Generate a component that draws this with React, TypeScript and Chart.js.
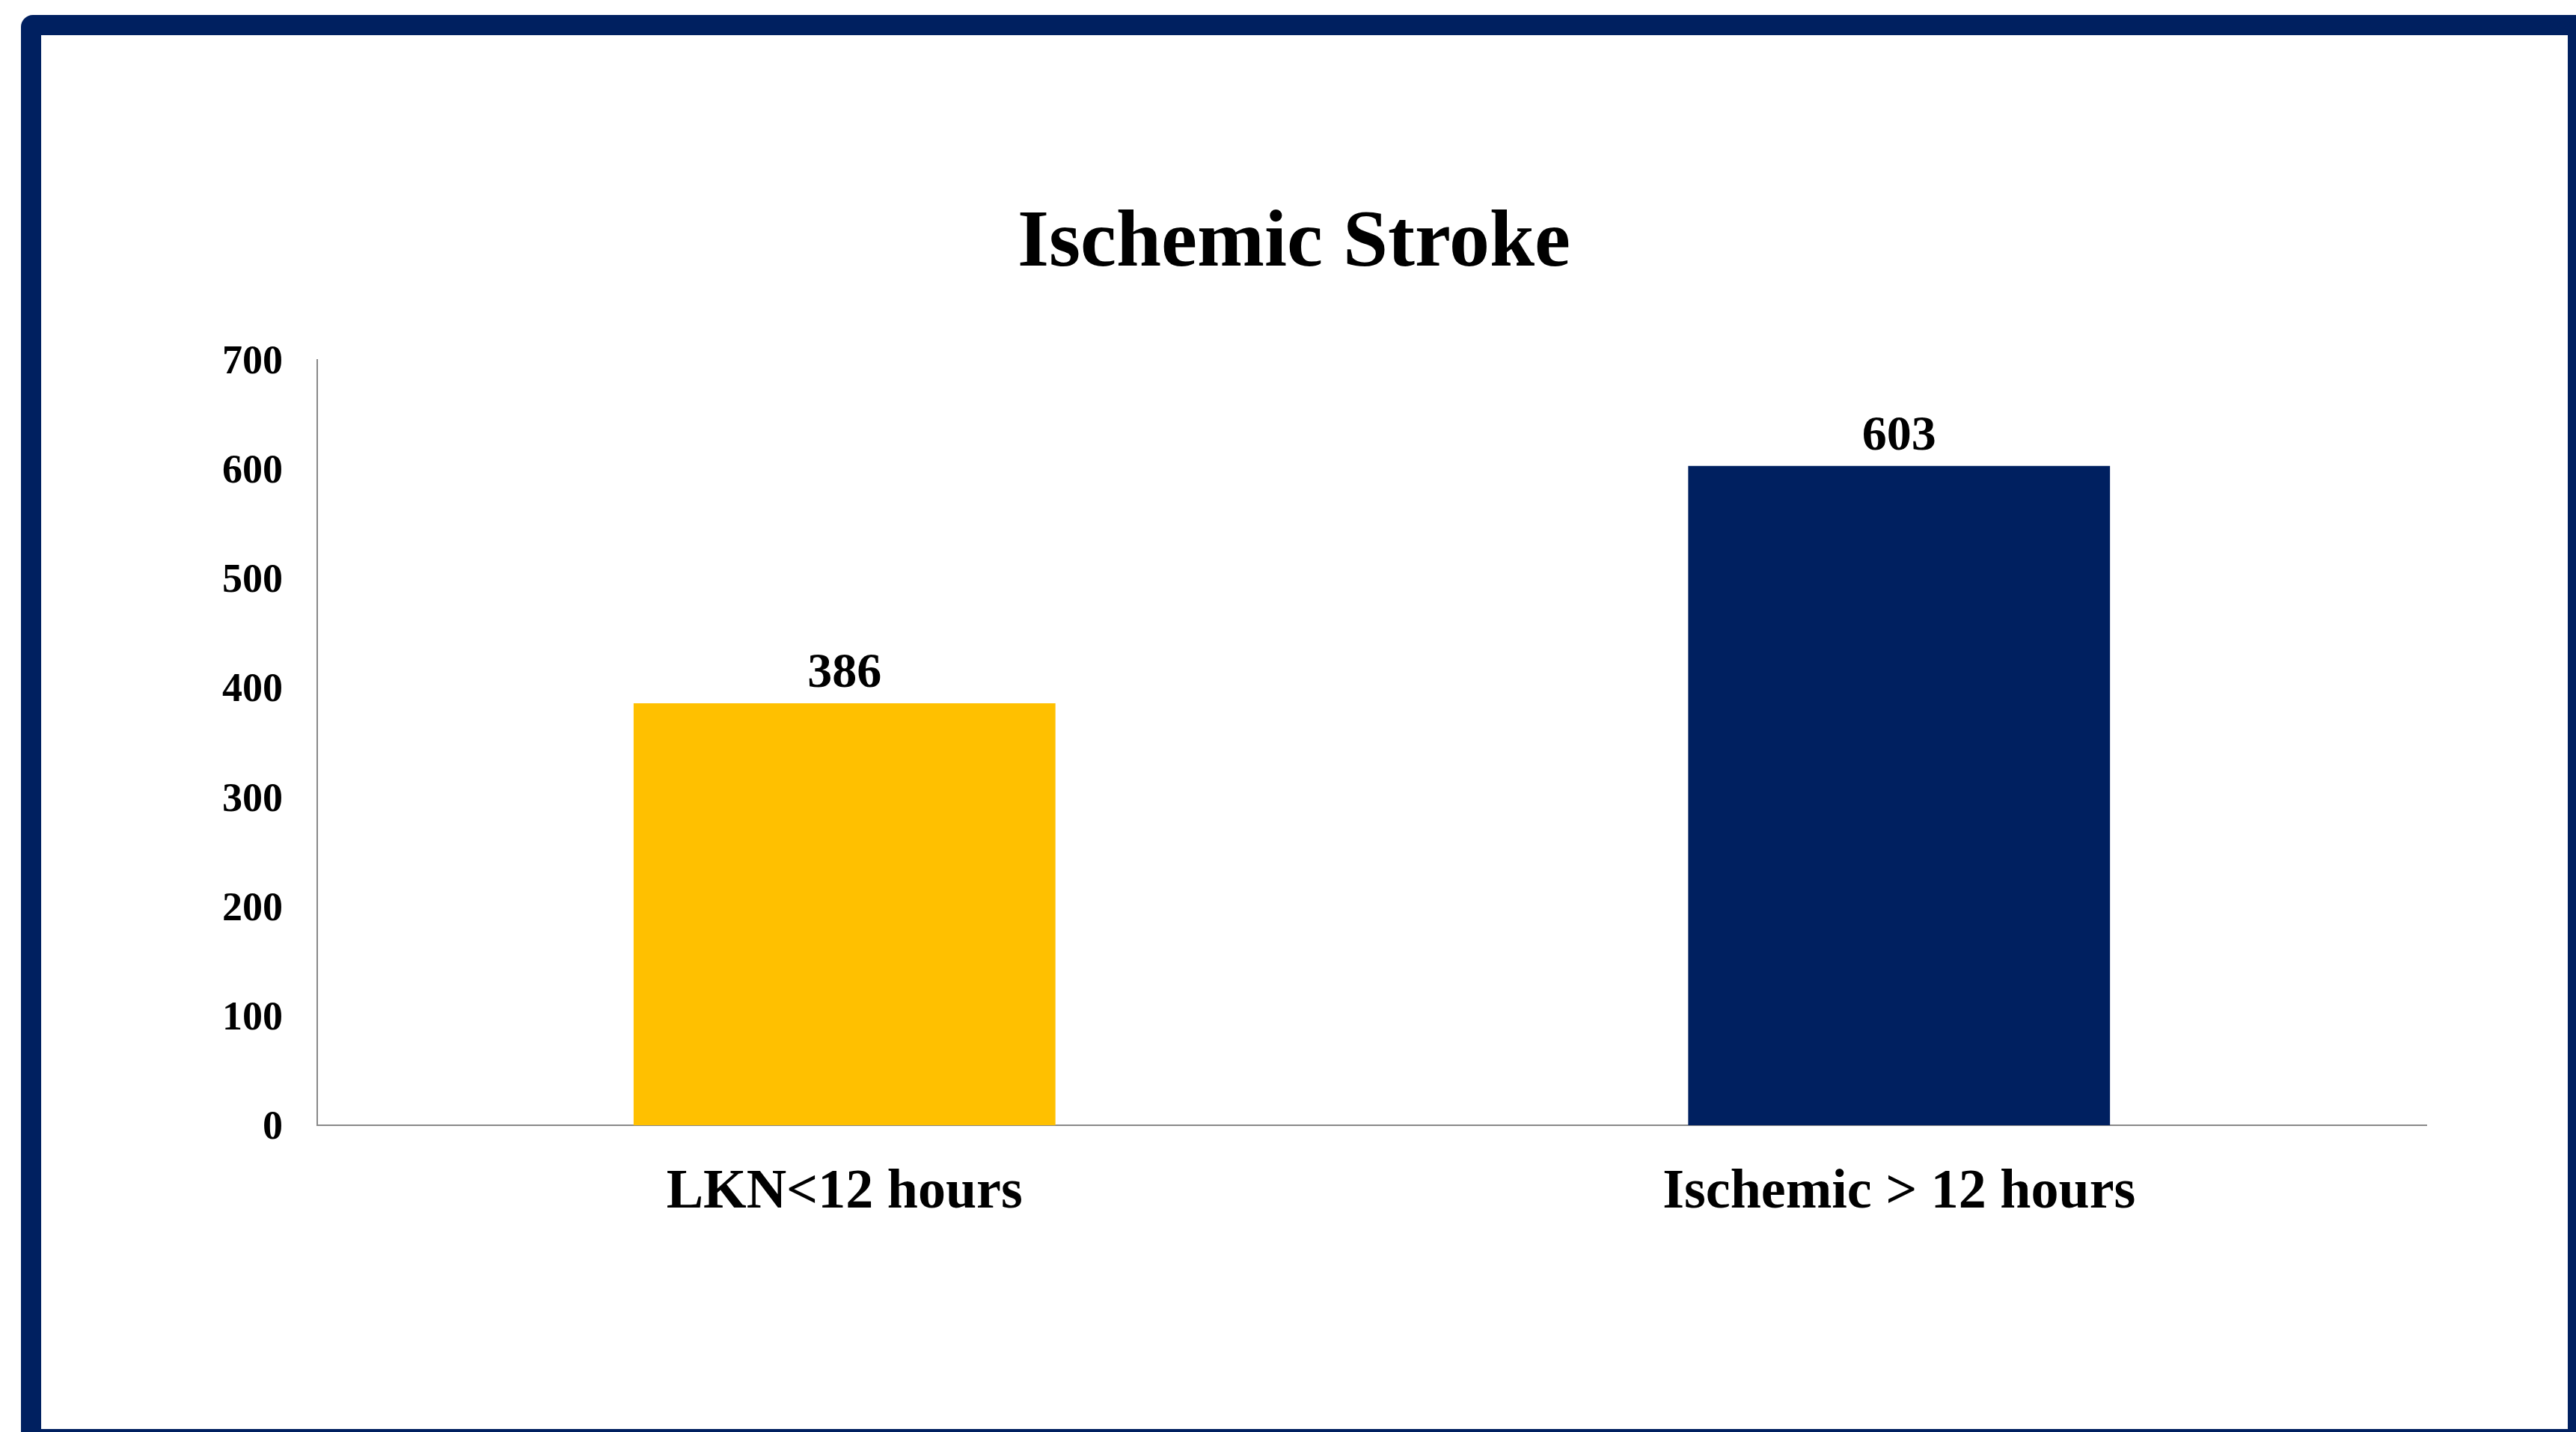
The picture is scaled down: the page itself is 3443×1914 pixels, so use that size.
import React, { useEffect, useRef } from "react";
import { Chart, registerables } from "chart.js";

Chart.register(...registerables);

const categories: string[] = ["LKN<12 hours", "Ischemic > 12 hours"];
const values: number[] = [386, 603];
const barColors: string[] = ["#FFC000", "#002060"];
const chartTitle = "Ischemic Stroke";
const yMin = 0;
const yMax = 700;
const yStep = 100;

const FONT = "'Liberation Serif', 'Times New Roman', serif";

const valueLabelPlugin = {
  id: "valueLabels",
  afterDatasetsDraw(chart: any) {
    const ctx = chart.ctx;
    const meta = chart.getDatasetMeta(0);
    ctx.save();
    ctx.font = `bold 66px ${FONT}`;
    ctx.fillStyle = "#000000";
    ctx.textAlign = "center";
    ctx.textBaseline = "alphabetic";
    meta.data.forEach((bar: any, i: number) => {
      const v = chart.data.datasets[0].data[i];
      ctx.fillText(String(v), bar.x, bar.y - 22);
    });
    ctx.restore();
  },
};

const titlePlugin = {
  id: "centeredTitle",
  afterDraw(chart: any) {
    const ctx = chart.ctx;
    ctx.save();
    ctx.font = `bold 108px ${FONT}`;
    ctx.fillStyle = "#000000";
    ctx.textAlign = "center";
    ctx.textBaseline = "alphabetic";
    ctx.fillText(chartTitle, chart.width / 2 - 14, 308);
    ctx.restore();
  },
};

export default function App() {
  const canvasRef = useRef<HTMLCanvasElement | null>(null);

  useEffect(() => {
    if (!canvasRef.current) return;
    const chart = new Chart(canvasRef.current, {
      type: "bar",
      data: {
        labels: categories,
        datasets: [
          {
            data: values,
            backgroundColor: barColors,
            borderWidth: 0,
            barPercentage: 0.4,
            categoryPercentage: 1.0,
          },
        ],
      },
      options: {
        responsive: false,
        animation: false,
        devicePixelRatio: 1,
        layout: { padding: { left: 0, top: 434, right: 189, bottom: 0 } },
        plugins: {
          legend: { display: false },
          tooltip: { enabled: false },
          title: { display: false },
        },
        scales: {
          x: {
            grid: { display: false, drawTicks: false },
            border: { display: true, color: "#898989", width: 2 },
            ticks: {
              color: "#000000",
              padding: 46,
              font: { family: FONT, size: 74, weight: "bold", lineHeight: 1.2 },
            },
            afterFit: (scale: any) => {
              scale.height = 406;
            },
          },
          y: {
            min: yMin,
            max: yMax,
            grid: { display: false, drawTicks: false },
            border: { display: true, color: "#898989", width: 2 },
            ticks: {
              stepSize: yStep,
              color: "#000000",
              padding: 46,
              labelOffset: 4,
              font: { family: FONT, size: 54, weight: "bold", lineHeight: 1.2 },
            },
            afterFit: (scale: any) => {
              scale.width = 369;
            },
          },
        },
      },
      plugins: [valueLabelPlugin, titlePlugin],
    });
    return () => chart.destroy();
  }, []);

  return (
    <div
      style={{
        position: "fixed",
        left: 0,
        top: 0,
        width: 3443,
        height: 1914,
        overflow: "hidden",
        background: "#ffffff",
      }}
    >
      <div
        style={{
          position: "absolute",
          left: 28,
          top: 20,
          width: 3431,
          height: 1917,
          boxSizing: "border-box",
          border: "27px solid #002060",
          borderRadius: 16,
          background: "#ffffff",
        }}
      >
        <canvas
          ref={canvasRef}
          width={3377}
          height={1863}
          style={{ position: "absolute", left: 0, top: 0, width: 3377, height: 1863 }}
        />
      </div>
    </div>
  );
}
